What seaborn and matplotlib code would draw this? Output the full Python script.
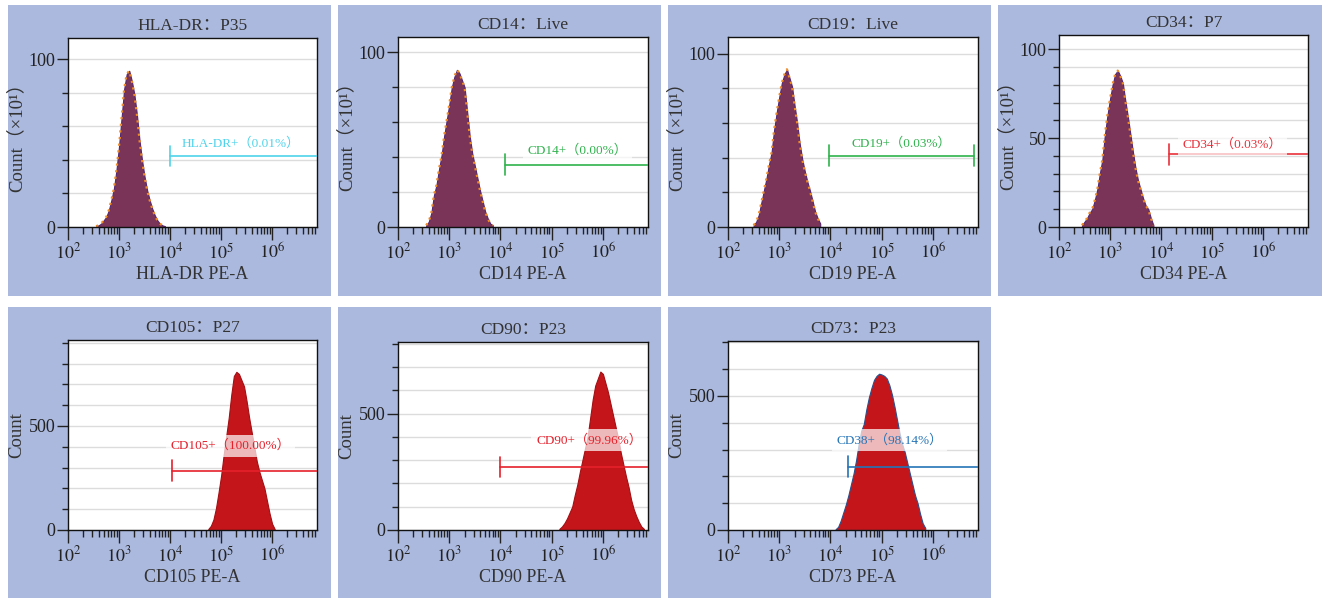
import numpy as np
import pandas as pd
import matplotlib
matplotlib.use("Agg")
import matplotlib.pyplot as plt
from matplotlib.patches import Rectangle
import seaborn as sns

sns.set_theme(style="ticks")
plt.rcParams["font.family"] = ["Liberation Serif", "Noto Sans CJK SC", "DejaVu Sans"]
plt.rcParams["mathtext.fontset"] = "stix"
plt.rcParams["text.color"] = "#333333"
plt.rcParams["axes.labelcolor"] = "#333333"
plt.rcParams["xtick.color"] = "#222222"
plt.rcParams["ytick.color"] = "#222222"

# histogram channels: first channel centre (log10 of PE-A) and count per channel (0.05 decade wide)
BIN_W = 0.05

hla_dr_start = 2.55
hla_dr_counts = [0.5, 1, 2, 4, 6, 10, 16, 23, 34, 48, 65, 82, 91, 93, 87, 79, 67, 52,
                 40, 30, 22, 16, 11, 7, 4, 2, 1, 0.5]

cd14_start = 2.55
cd14_counts = [1, 3, 8, 18, 24, 33, 41, 52, 61, 70, 80, 86, 90, 88, 84, 80, 66, 52,
               42, 35, 28, 21, 15, 9, 5, 2, 1]

cd19_start = 2.50
cd19_counts = [1, 3, 7, 14, 21, 28, 36, 43, 56, 66, 75, 83, 88, 91, 86, 81, 70, 60,
               48, 39, 32, 26, 21, 15, 9, 5, 2]

cd34_start = 2.45
cd34_counts = [1, 3, 5, 8, 10, 15, 21, 30, 38, 52, 63, 72, 80, 86, 88, 85, 81, 71,
               62, 52, 42, 33, 26, 21, 16, 12, 10, 5, 1]

cd105_start = 4.75
cd105_counts = [5, 20, 50, 105, 180, 260, 360, 450, 540, 650, 740, 760, 750, 720,
                690, 620, 540, 470, 400, 330, 280, 240, 200, 140, 80, 30, 5]

cd90_start = 5.15
cd90_counts = [5, 15, 30, 50, 75, 100, 150, 195, 250, 300, 350, 400, 480, 560, 620,
               650, 680, 670, 630, 590, 540, 490, 440, 390, 330, 280, 230, 185, 130,
               90, 60, 35, 15, 5]

cd73_start = 4.10
cd73_counts = [3, 12, 35, 65, 95, 130, 170, 210, 260, 320, 370, 395, 450, 495, 530,
               560, 575, 583, 580, 575, 565, 540, 505, 460, 410, 360, 320, 290, 250,
               210, 170, 130, 100, 60, 25, 8]

titles = ["HLA-DR：P35", "CD14：Live", "CD19：Live", "CD34：P7",
          "CD105：P27", "CD90：P23", "CD73：P23"]
xlabels = ["HLA-DR PE-A", "CD14 PE-A", "CD19 PE-A", "CD34 PE-A",
           "CD105 PE-A", "CD90 PE-A", "CD73 PE-A"]
gate_labels = ["HLA-DR+（0.01%）", "CD14+（0.00%）", "CD19+（0.03%）", "CD34+（0.03%）",
               "CD105+（100.00%）", "CD90+（99.96%）", "CD38+（98.14%）"]
# gate start (log10), gate level (count)
gate_x0 = [4.0, 4.08, 3.98, 4.16, 4.03, 4.0, 4.35]
gate_y = [42.3, 35.6, 41, 40.9, 285, 271, 236]

starts = [hla_dr_start, cd14_start, cd19_start, cd34_start, cd105_start, cd90_start, cd73_start]
counts = [hla_dr_counts, cd14_counts, cd19_counts, cd34_counts, cd105_counts, cd90_counts, cd73_counts]

W, H = 1323, 600
BG = "#abb9de"
PURPLE_FILL, PURPLE_EDGE = "#7a3458", "#55276e"
RED_FILL, RED_EDGE = "#c4161a", "#a01014"

# panel backgrounds and axes boxes in pixels (left, top, right, bottom)
bg_boxes = [(8, 5, 331, 296), (338, 5, 661, 296), (668, 5, 991, 296), (998, 5, 1322, 296),
            (8, 307, 331, 598), (338, 307, 661, 598), (668, 307, 991, 598)]
ax_boxes = [(68, 38, 317, 227), (398, 37, 648, 227), (728, 37, 978, 227), (1059, 35, 1308, 227),
            (68, 340, 317, 530), (398, 342, 648, 530), (728, 341, 978, 530)]
ymax = [112.5, 108.8, 109.6, 108, 913, 807, 705]
grid_step = [20, 20, 20, 10, 100, 100, 100]
major_y = [[0, 100], [0, 100], [0, 100], [0, 50, 100], [0, 500], [0, 500], [0, 500]]
gate_colors = ["#4fd3ea", "#2fb24c", "#2fb24c", "#e8303a", "#e5202b", "#e5202b", "#2474b8"]
gate_text_xy = [(5.39, 50), (5.5, 43.8), (5.38, 48), (5.4, 46.7), (5.19, 405), (5.73, 386), (5.15, 335)]
gate_end = [None, None, 6.81, None, None, None, None]
XMAX = 6.88

fig = plt.figure(figsize=(W / 100, H / 100), dpi=100)
fig.patch.set_facecolor("white")

for i in range(7):
    l, t, r, b = bg_boxes[i]
    fig.add_artist(Rectangle((l / W, 1 - b / H), (r - l) / W, (b - t) / H,
                             transform=fig.transFigure, facecolor=BG, edgecolor="none", zorder=0))

    l, t, r, b = ax_boxes[i]
    ax = fig.add_axes([l / W, 1 - b / H, (r - l) / W, (b - t) / H])
    ax.set_facecolor("white")

    top_row = i < 4
    fill = PURPLE_FILL if top_row else RED_FILL
    edge = PURPLE_EDGE if top_row else RED_EDGE
    if i == 6:
        edge = "#2b4f8a"

    c = np.array(counts[i], dtype=float)
    centers = np.round(starts[i] + BIN_W * np.arange(len(c)), 3)
    edges = list(np.append(centers - BIN_W / 2, centers[-1] + BIN_W / 2))
    df = pd.DataFrame({"pe": centers, "n": c})
    if top_row:
        # orange overlay peeking out around the outline
        sns.histplot(data=df, x="pe", weights="n", bins=edges, element="poly", fill=False,
                     color="#f08a24", linewidth=1.6, linestyle=(0, (1, 2)), ax=ax)
    sns.histplot(data=df, x="pe", weights="n", bins=edges, element="poly", fill=True,
                 color=fill, edgecolor=edge, linewidth=0.8, alpha=1, ax=ax)

    ax.set_xlim(2, XMAX)
    ax.set_ylim(0, ymax[i])

    # x axis: decades with minor ticks
    ax.set_xticks(range(2, 7))
    ax.set_xticklabels([r"$10^{%d}$" % d for d in range(2, 7)])
    minors = [d + np.log10(k) for d in range(2, 7) for k in range(2, 10) if d + np.log10(k) <= XMAX]
    ax.set_xticks(minors, minor=True)

    # y axis
    ax.set_yticks(major_y[i])
    ax.set_yticks(np.arange(grid_step[i], ymax[i], grid_step[i]), minor=True)
    ax.grid(axis="y", which="both", color="#dcdcdc", linewidth=1)
    ax.set_axisbelow(True)

    ax.tick_params(axis="x", which="major", length=9, width=1, labelsize=13, pad=2)
    ax.tick_params(axis="x", which="minor", length=5, width=1)
    ax.tick_params(axis="y", which="major", length=8, width=1, labelsize=13, pad=1)
    ax.tick_params(axis="y", which="minor", length=4, width=1)
    for sp in ax.spines.values():
        sp.set_visible(True)
        sp.set_color("#111111")
        sp.set_linewidth(1)

    ax.set_title(titles[i], fontsize=12.5, pad=6, color="#333333")
    ax.set_xlabel(xlabels[i], fontsize=13, labelpad=3)
    ax.set_ylabel("Count（×10¹）" if top_row else "Count", fontsize=13.5)
    ax.yaxis.set_label_coords(-0.17, 0.5)

    # gate marker
    gc = gate_colors[i]
    x1 = gate_end[i] if gate_end[i] is not None else XMAX + 0.1
    bar = 0.055 * ymax[i]
    ax.plot([gate_x0[i], x1], [gate_y[i], gate_y[i]], color=gc, lw=1.2, zorder=4)
    ax.plot([gate_x0[i], gate_x0[i]], [gate_y[i] - bar, gate_y[i] + bar], color=gc, lw=1.2, zorder=4)
    if gate_end[i] is not None:
        ax.plot([x1, x1], [gate_y[i] - bar, gate_y[i] + bar], color=gc, lw=1.2, zorder=4)
    tx, ty = gate_text_xy[i]
    ax.text(tx, ty, gate_labels[i], color=gc, fontsize=9.5, ha="center", va="center", zorder=5,
            bbox=dict(boxstyle="square,pad=0.35", facecolor="white", alpha=0.7, edgecolor="none"))

fig.savefig("out.png", dpi=100, facecolor="white")
